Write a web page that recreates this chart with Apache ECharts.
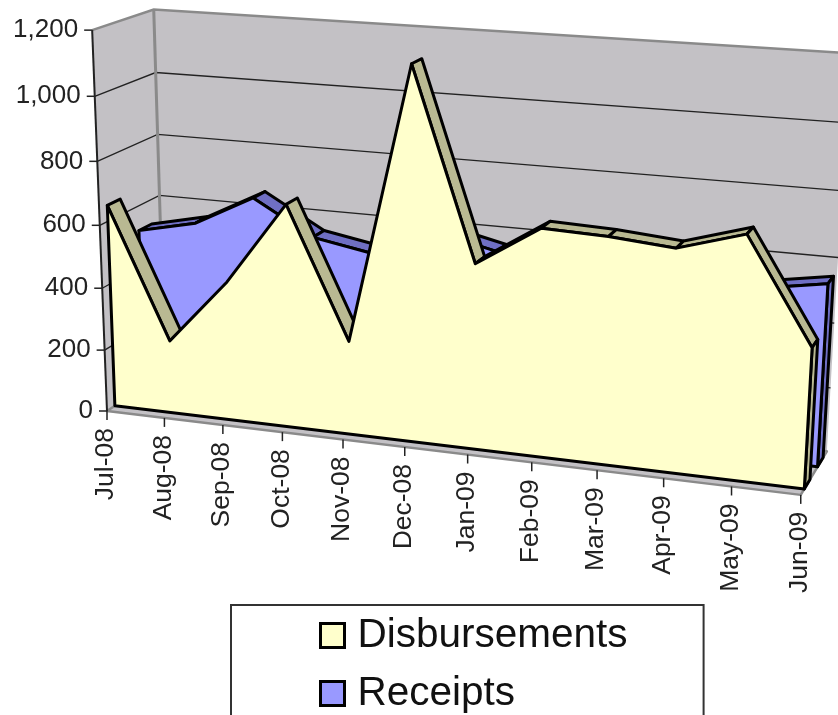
<!DOCTYPE html>
<html><head><meta charset="utf-8">
<style>html,body{margin:0;padding:0;background:#fff;overflow:hidden}#c{width:838px;height:715px}</style>
<script src="https://cdn.jsdelivr.net/npm/echarts@6/dist/echarts.min.js"></script></head>
<body><div id="c"></div>
<script>
const months = ['Jul-08','Aug-08','Sep-08','Oct-08','Nov-08','Dec-08','Jan-09','Feb-09','Mar-09','Apr-09','May-09','Jun-09'];
const disbursements = [650,235,444,704,296,1154,576,701,694,678,737,425];
const receipts = [520,562,660,552,518,606,562,538,528,522,526,559];
const tickValues = [0,200,400,600,800,1000,1200];
const tickLabels = ['0','200','400','600','800','1,000','1,200'];

// three-point perspective of the Excel 3-D box (layout only)
const O=[107,411], VU=[-6300,-396], VV=[398,7883], VD=[1280,-366];
const WU=-0.0977, WV=-0.0485, WD=0.052, FRONT_LIFT=3.5;
function project(u,v,d){
  const a=WU*u,b=WV*v,c=WD*d,w=1+a+b+c;
  return [(O[0]+a*VU[0]+b*VV[0]+c*VD[0])/w,
          (O[1]+a*VU[1]+b*VV[1]+c*VD[1])/w-FRONT_LIFT*u*(1-d)*(1-v)];
}
function unit(api,params,cat,val){
  const p=api.coord([cat,val]),s=params.coordSys;
  return [(p[0]-s.x)/s.width,(s.y+s.height-p[1])/s.height];
}
const poly=(points,fill,stroke,lw,z2)=>({type:'polygon',z2:z2||0,shape:{points},style:{fill,stroke:stroke||null,lineWidth:lw||0,lineJoin:'round'}});
const line=(points,stroke,lw,z2)=>({type:'polyline',z2:z2||1,shape:{points},style:{fill:null,stroke,lineWidth:lw}});

function renderFrame(params,api){
  if(params.dataIndex!==0) return null;
  const wall='#c3c1c5',edge='#8a8a8a',ch=[];
  ch.push(poly([project(0,0,1),project(1,0,1),project(1,1,1),project(0,1,1)],wall));
  ch.push(poly([project(0,0,0),project(0,0,1),project(0,1,1),project(0,1,0)],wall));
  ch.push(poly([project(0,0,0),project(1,0,0),project(1,0,1),project(0,0,1)],wall,edge,2.5));
  tickValues.forEach((t,i)=>{
    const v=unit(api,params,0,t)[1];
    const a=project(0,v,0),b=project(0,v,1),c=project(1,v,1);
    if(t===1200){ ch.push(line([a,b,c],edge,2.5)); }
    else if(t>0){ ch.push(line([a,b,c],'#222',1.3)); }
    ch.push(line([[a[0]-8,a[1]],a],'#222',1.5,2));
    ch.push({type:'text',z2:3,style:{text:tickLabels[i],x:a[0]-14,y:a[1],align:'right',verticalAlign:'middle',font:'26px "Liberation Sans"',fill:'#222'}});
  });
  ch.push(line([project(0,0,1),project(0,1,1)],edge,3,1));
  ch.push(line([project(0,1,0),project(0,0,0)],'#222',2,2));
  months.forEach((m,i)=>{
    const u=unit(api,params,i,0)[0],p=project(u,0,0);
    ch.push(line([p,[p[0],p[1]+9]],'#222',1.5,2));
    ch.push({type:'text',z2:3,rotation:Math.PI/2,x:p[0]-1,y:p[1]+17,style:{text:m,x:0,y:0,align:'right',verticalAlign:'middle',font:'26.5px "Liberation Sans"',fill:'#222'}});
  });
  return {type:'group',children:ch};
}
function areaRenderer(values,d0,d1,front,top){
  return function(params,api){
    if(params.dataIndex!==0) return null;
    const uv=values.map((x,i)=>unit(api,params,i,x));
    const f=uv.map(q=>project(q[0],q[1],d0)),b=uv.map(q=>project(q[0],q[1],d1));
    const ch=[];
    for(let i=0;i<f.length-1;i++){
      const e=[f[i+1][0]-f[i][0],f[i+1][1]-f[i][1]],o=[b[i][0]-f[i][0],b[i][1]-f[i][1]];
      if(e[0]*o[1]-e[1]*o[0]<0) ch.push(poly([f[i],f[i+1],b[i+1],b[i]],top,'#000',3,1));
    }
    const n=f.length-1,u1=uv[n][0];
    ch.push(poly([project(u1,0,d0),project(u1,0,d1),b[n],f[n]],top,'#000',3,1));
    const base0=project(uv[0][0],0,d0),base1=project(u1,0,d0);
    ch.push(poly([base0].concat(f,[base1]),front,'#000',3,2));
    return {type:'group',children:ch};
  };
}
const chart=echarts.init(document.getElementById('c'));
chart.setOption({
  animation:false,backgroundColor:'#fff',
  grid:{left:100,right:100,top:100,bottom:100},
  xAxis:{type:'category',data:months,boundaryGap:false,show:false},
  yAxis:{type:'value',min:0,max:1200,interval:200,show:false},
  legend:{
    show:true,data:['Disbursements','Receipts'],orient:'vertical',left:231,top:605,height:400,
    padding:[6,76,40,88],itemGap:9,itemWidth:24,itemHeight:24,icon:'rect',
    borderColor:'#333',borderWidth:2,backgroundColor:'#fff',selectedMode:false,
    itemStyle:{borderColor:'#000',borderWidth:3},
    textStyle:{fontFamily:'Liberation Sans',fontSize:40.5,lineHeight:45,color:'#111',padding:[4,0,0,8]}
  },
  series:[
    {type:'custom',name:'frame',z:1,silent:true,data:[[0,0]],renderItem:renderFrame},
    {type:'custom',name:'Receipts',z:2,silent:true,data:receipts.map((v,i)=>[i,v]),
     itemStyle:{color:'#9999ff',borderColor:'#000',borderWidth:3},
     renderItem:areaRenderer(receipts,0.63,0.85,'#9999ff','#6f6fc4')},
    {type:'custom',name:'Disbursements',z:3,silent:true,data:disbursements.map((v,i)=>[i,v]),
     itemStyle:{color:'#ffffcc',borderColor:'#000',borderWidth:3},
     renderItem:areaRenderer(disbursements,0.13,0.34,'#ffffcc','#b9b992')}
  ]
});
</script></body></html>
